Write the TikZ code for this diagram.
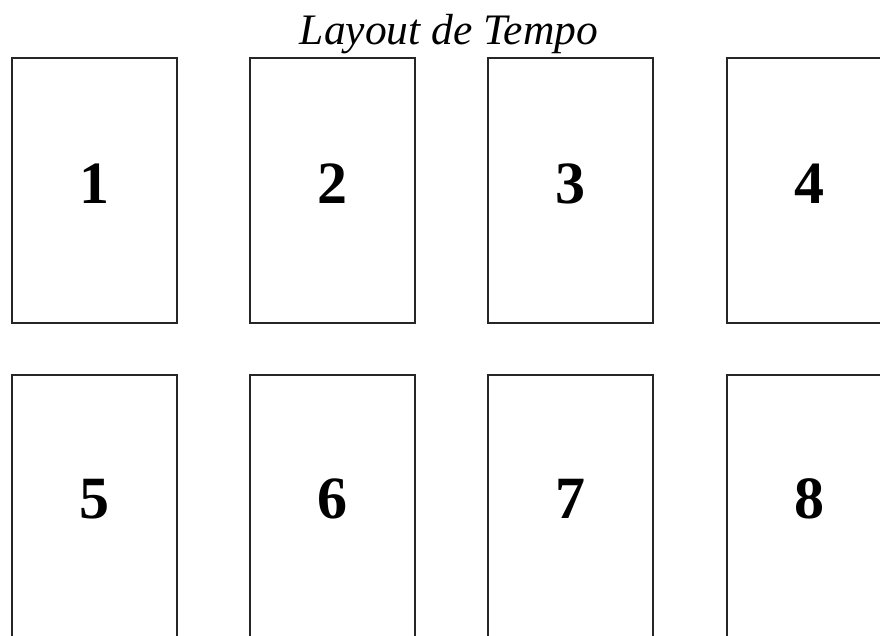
\documentclass[tikz,border=0pt]{standalone}
\usepackage{fontspec}
\setmainfont{Liberation Serif}
\begin{document}
\begin{tikzpicture}[x=1pt,y=-1pt,
  card/.style={draw=black!85,line width=1.6pt,fill=white},
  num/.style={anchor=base,font=\fontsize{60}{60}\bfseries},
  ttl/.style={anchor=base,font=\fontsize{43.5}{44}\itshape}]
\useasboundingbox (0,0) rectangle (880,635);
\begin{scope}
\clip (0,0) rectangle (880,635);
\foreach \i/\x in {1/12,2/250,3/488,4/727}{
  \draw[card] (\x,58) rectangle ++(165,265);
  \node[num] (n\i) at (\x+82.5,203) {\i};
}
\foreach \i/\x in {5/12,6/250,7/488,8/727}{
  \draw[card] (\x,375) rectangle ++(165,265);
  \node[num] (n\i) at (\x+82.5,518) {\i};
}
\end{scope}
\node[ttl] (title) at (449,44) {Layout de Tempo};
\end{tikzpicture}
\end{document}
